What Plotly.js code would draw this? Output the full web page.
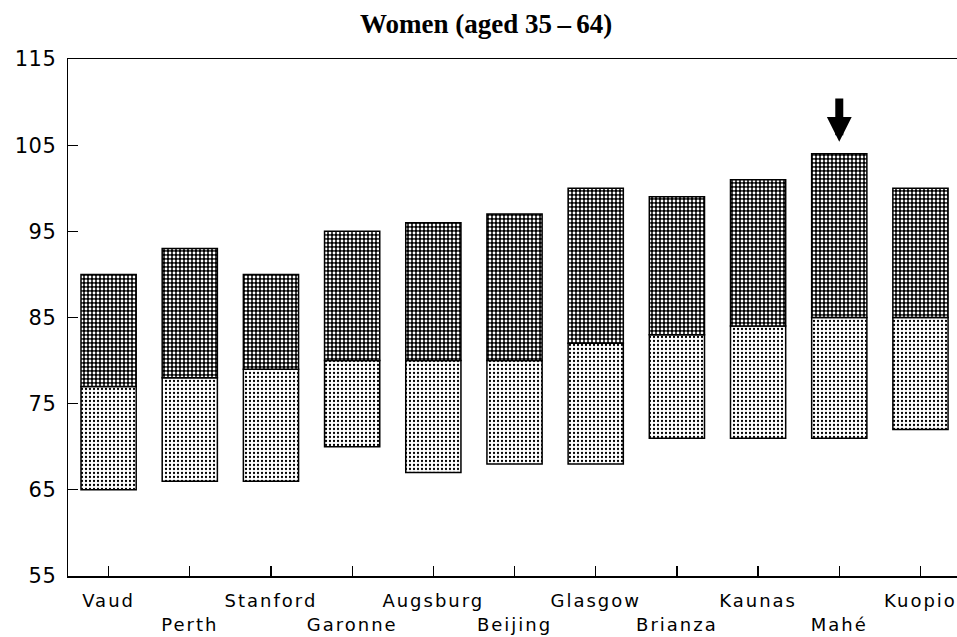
<!DOCTYPE html>
<html>
<head>
<meta charset="utf-8">
<script src="https://cdn.plot.ly/plotly-3.0.1.min.js"></script>
<style>
html,body{margin:0;padding:0;background:#fff;}
#chart{width:957px;height:637px;}
.xtick text{letter-spacing:2px;}
.ytick text{letter-spacing:0.5px;}
</style>
</head>
<body>
<div id="chart"></div>
<script>
// Data
const centres = ["Vaud","Perth","Stanford","Garonne","Augsburg","Beijing","Glasgow","Brianza","Kaunas","Mahé","Kuopio"];
const lowValues = [65, 66, 66, 70, 67, 68, 68, 71, 71, 71, 72];
const midValues = [77, 78, 79, 80, 80, 80, 82, 83, 84, 85, 85];
const highValues = [90, 93, 90, 95, 96, 97, 100, 99, 101, 104, 100];
const yTicks = [55, 65, 75, 85, 95, 105, 115];
const highlighted = "Mahé";

const idx = centres.map((_, i) => i);
const tickText = centres.map((c, i) => (i % 2 === 1 ? "<br>" + c : c));

const lowerTrace = {
  type: "bar",
  x: idx,
  base: lowValues,
  y: midValues.map((m, i) => m - lowValues[i]),
  width: 0.68,
  marker: {
    color: "#ffffff",
    line: {color: "#000000", width: 1.5},
    pattern: {shape: ".", fgcolor: "#000000", bgcolor: "#ffffff", size: 4, solidity: 0.25}
  },
  hoverinfo: "skip",
  showlegend: false
};

const upperTrace = {
  type: "bar",
  x: idx,
  base: midValues,
  y: highValues.map((h, i) => h - midValues[i]),
  width: 0.68,
  marker: {
    color: "#000000",
    line: {color: "#000000", width: 1.5},
    pattern: {shape: ".", fgcolor: "#ffffff", bgcolor: "#000000", size: 4, solidity: 0.4}
  },
  hoverinfo: "skip",
  showlegend: false
};

const hi = centres.indexOf(highlighted);

const layout = {
  width: 957,
  height: 637,
  margin: {l: 68, r: 0, t: 59, b: 61},
  paper_bgcolor: "#ffffff",
  plot_bgcolor: "#ffffff",
  barmode: "overlay",
  title: {
    text: "<b>Women (aged 35\u2009\u2013\u200964)</b>",
    font: {family: "Liberation Serif", size: 27, color: "#000000"},
    xref: "container", x: 0.508, xanchor: "center",
    yref: "container", y: 0.963, yanchor: "middle"
  },
  xaxis: {
    range: [-0.5, 10.45],
    tickmode: "array",
    tickvals: idx,
    ticktext: tickText,
    ticks: "inside",
    ticklen: 10,
    tickwidth: 1.2,
    tickcolor: "#000000",
    showline: true,
    linecolor: "#000000",
    linewidth: 1.5,
    mirror: true,
    showgrid: false,
    zeroline: false,
    tickangle: 0,
    ticklabelstandoff: 8,
    tickfont: {family: "DejaVu Sans", size: 18, color: "#000000"},
    fixedrange: true
  },
  yaxis: {
    range: [55, 115],
    tickmode: "array",
    tickvals: yTicks,
    ticktext: yTicks.map(String),
    ticks: "inside",
    ticklen: 10,
    tickwidth: 1.2,
    tickcolor: "#000000",
    showline: true,
    linecolor: "#000000",
    linewidth: 1.5,
    mirror: false,
    showgrid: false,
    zeroline: false,
    ticklabelstandoff: 6,
    tickfont: {family: "DejaVu Sans", size: 21, color: "#000000"},
    fixedrange: true
  },
  annotations: [{
    x: hi, y: 105.4, xref: "x", yref: "y",
    ax: hi, ay: 110.6, axref: "x", ayref: "y",
    text: "", showarrow: true,
    arrowhead: 2, arrowsize: 0.62, arrowwidth: 8, arrowcolor: "#000000"
  }]
};

Plotly.newPlot("chart", [lowerTrace, upperTrace], layout, {displayModeBar: false, staticPlot: true});
</script>
</body>
</html>
